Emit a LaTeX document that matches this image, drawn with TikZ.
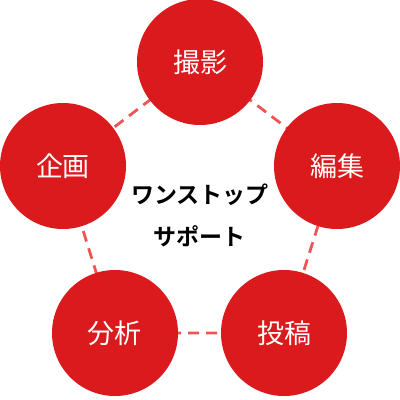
\documentclass[tikz,border=0pt]{standalone}
\usepackage{fontspec}
\newfontfamily\jpfont{Noto Sans CJK JP}
\newfontfamily\jpbold{Noto Sans CJK JP Bold}
\definecolor{circred}{HTML}{DA1A1C}
\definecolor{dashred}{HTML}{F05555}
\begin{document}
\begin{tikzpicture}[x=1pt,y=-1pt,
  stage/.style={circle,fill=circred,minimum size=126pt,inner sep=0pt,text=white,font=\jpfont\fontsize{27}{30}\selectfont},
  link/.style={draw=dashred,line width=2.8pt,dash pattern=on 11pt off 7pt}]
\useasboundingbox (0,0) rectangle (400,400);
\coordinate (ptop) at (200,62);
\coordinate (pleft) at (63,166);
\coordinate (pright) at (337,166);
\coordinate (pbl) at (115,333);
\coordinate (pbr) at (284,333);
\draw[link] (ptop) -- (pright) -- (pbr) -- (pbl) -- (pleft) -- cycle;
\node[stage] (top) at (ptop) {撮影};
\node[stage] (left) at (pleft) {企画};
\node[stage] (right) at (pright) {編集};
\node[stage] (bl) at (pbl) {分析};
\node[stage] (br) at (pbr) {投稿};
\node[font=\jpbold\fontsize{23}{42}\selectfont,align=center,text=black] (center) at (200,215) {ワンストップ\\サポート};
\end{tikzpicture}
\end{document}
